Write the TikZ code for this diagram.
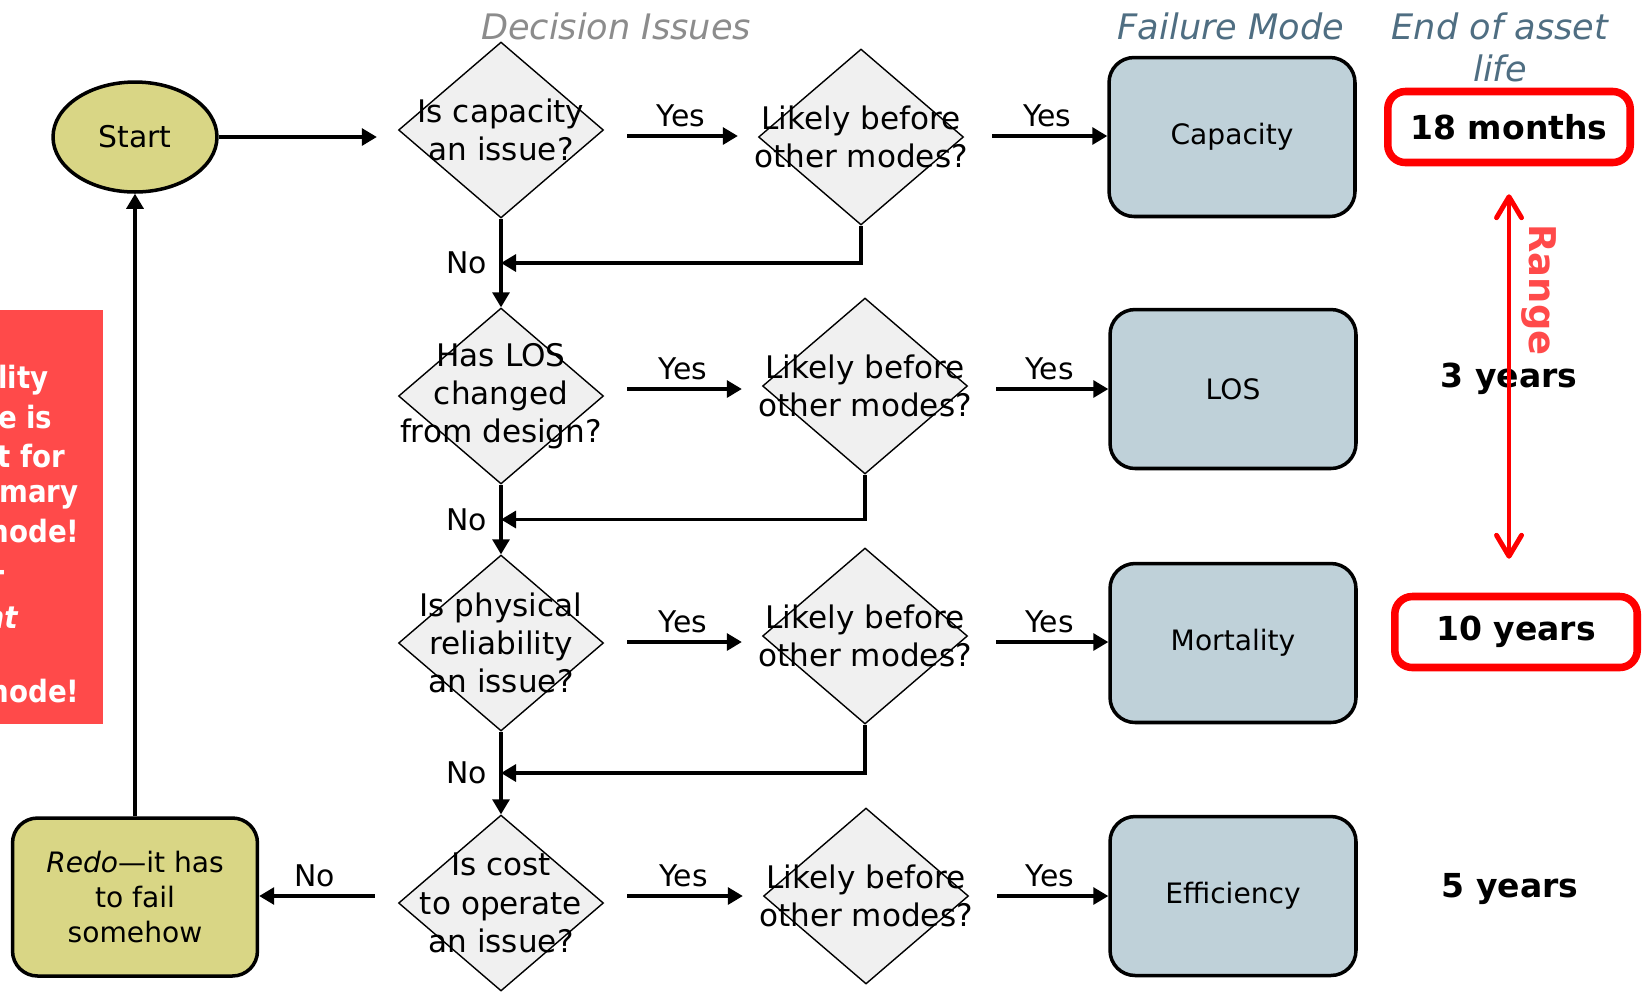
\documentclass[tikz,border=0pt]{standalone}
\usepackage{fontspec}
\setmainfont{DejaVu Sans}[ItalicFont={DejaVu Sans Oblique},BoldFont={DejaVu Sans Bold},BoldItalicFont={DejaVu Sans Bold Oblique}]
\usetikzlibrary{arrows.meta,calc,positioning,shapes.geometric}
\definecolor{khaki}{rgb}{0.85,0.84,0.52}
\definecolor{modeblue}{rgb}{0.75,0.82,0.85}
\definecolor{diagray}{rgb}{0.94,0.94,0.94}
\definecolor{red1}{rgb}{1,0.29,0.29}
\definecolor{headgray}{rgb}{0.55,0.55,0.55}
\definecolor{headblue}{rgb}{0.31,0.43,0.51}

\begin{document}
\begin{tikzpicture}[x=0.02cm,y=-0.02cm,>={Triangle[length=0.3cm,width=0.34cm]},line width=1.8pt,
  question/.style={diamond, draw, line width=0.8pt, fill=diagray, minimum width=4.1cm, minimum height=3.52cm, inner sep=0pt},
  qtext/.style={align=center, font=\fontsize{17.7}{21.8}\selectfont},
  mode/.style={rectangle, rounded corners=0.5cm, draw, line width=2pt, fill=modeblue, minimum width=4.92cm, minimum height=3.18cm, font=\fontsize{16}{19}\selectfont},
  answer/.style={font=\fontsize{17}{20}\selectfont},
  head/.style={font=\fontsize{20}{24}\selectfont\itshape},
  yearbox/.style={draw=red, line width=4.3pt, rounded corners=0.35cm, fill=white, minimum width=4.85cm, minimum height=1.42cm, font=\fontsize{18.8}{22}\selectfont\bfseries},
  yeartext/.style={font=\fontsize{18.8}{22}\selectfont\bfseries}]
  \useasboundingbox (0,0) rectangle (1642,992);

  % headings
  \node[head, headgray] (hdec) at (616,26) {Decision Issues};
  \node[head, headblue] (hmode) at (1231,26) {Failure Mode};
  \node[head, headblue, align=center] (hlife) at (1500,47) {End of asset\\life};

  % side note, cut at the left edge
  \fill[red1] (0,310) rectangle (103,724);
  \begin{scope}
    \clip (0,310) rectangle (103,724);
    \foreach \txt/\xr/\yb in {lity/50/388, e is/54/428, t for/67/467, mary/80/502, node!/81/542, -/8/581, \textit{nt}/20/628, node!/81/702}
      \node[white, anchor=base east, inner sep=0pt, font=\fontsize{17.5}{21}\selectfont\bfseries] (side\yb) at (\xr,\yb) {\scalebox{0.9}[1]{\txt}};
  \end{scope}

  % start and redo
  \node[ellipse, draw, line width=2pt, fill=khaki, minimum width=3.28cm, minimum height=2.2cm, font=\fontsize{17}{20}\selectfont] (start) at (135,137) {Start};
  \node[rectangle, rounded corners=0.5cm, draw, line width=2pt, fill=khaki, minimum width=4.9cm, minimum height=3.16cm, align=center, font=\fontsize{16}{20.2}\selectfont] (redo) at (135,897) {\textit{Redo}---it has\\to fail\\somehow};

  % rows of the arrows
  \coordinate (r1) at (0,136);
  \coordinate (r2) at (0,389);
  \coordinate (r3) at (0,642);
  \coordinate (r4) at (0,896);

  % decision rows
  \node[question] (d1) at (501,130) {};
  \node[qtext] (d1t) at (d1) {Is capacity\\an issue?};
  \node[question] (l1) at (861,137) {};
  \node[qtext] (l1t) at (l1) {Likely before\\other modes?};
  \node[mode] (capacity) at (1232,137) {Capacity};

  \node[question] (d2) at (501,396) {};
  \node[qtext] (d2t) at (d2) {Has LOS\\changed\\from design?};
  \node[question] (l2) at (865,386) {};
  \node[qtext] (l2t) at (l2) {Likely before\\other modes?};
  \node[mode] (los) at (1233,389) {LOS};

  \node[question] (d3) at (501,643) {};
  \node[qtext] (d3t) at (d3) {Is physical\\reliability\\an issue?};
  \node[question] (l3) at (865,636) {};
  \node[qtext] (l3t) at (l3) {Likely before\\other modes?};
  \node[mode] (mortality) at (1233,643) {Mortality};

  \node[question] (d4) at (501,903) {};
  \node[qtext] (d4t) at (d4) {Is cost\\to operate\\an issue?};
  \node[question] (l4) at (866,896) {};
  \node[qtext] (l4t) at (l4) {Likely before\\other modes?};
  \node[mode] (efficiency) at (1233,896) {Efficiency};

  \coordinate (j1) at ($(d1.south)!0.5!(d2.north)$);
  \coordinate (j2) at ($(d2.south)!0.5!(d3.north)$);
  \coordinate (j3) at ($(d3.south)!0.5!(d4.north)$);

  % connectors
  \draw[->, shorten >=0.42cm] (start) -- (d1.west |- start);
  \foreach \d/\l/\m/\r in {d1/l1/capacity/r1, d2/l2/los/r2, d3/l3/mortality/r3, d4/l4/efficiency/r4} {
    \draw[->, shorten <=0.46cm, shorten >=0.4cm] (\d.east |- \r) -- (\l.west |- \r) node[answer, midway, above=1pt] (yes\d) {Yes};
    \draw[->, shorten <=0.56cm] (\l.east |- \r) -- (\m.west |- \r) node[answer, pos=0.58, above=1pt] (yes\l) {Yes};
  }
  \draw[->] (d1) -- (d2);
  \draw[->] (d2) -- (d3);
  \draw[->] (d3) -- (d4);
  \draw[->] (l1.south) |- (j1);
  \draw[->] (l2.south) |- (j2);
  \draw[->] (l3.south) |- (j3);
  \node[answer, left=1.3mm of j1] (no1) {No};
  \node[answer, left=1.3mm of j2] (no2) {No};
  \node[answer, left=1.3mm of j3] (no3) {No};
  \draw[->, shorten <=0.46cm] (d4.west |- r4) -- (redo.east |- r4) node[answer, pos=0.6, above=1pt] (no4) {No};
  \draw[->] (redo) -- (start);

  % end of asset life
  \node[yearbox] (m18) at (1509,127) {18 months};
  \node[yeartext] (y3) at (1509,379) {3 years};
  \node[yearbox] (y10) at (1516,632) {10 years};
  \node[yeartext] (y5) at (1510,889) {5 years};
  \draw[{Straight Barb[length=0.42cm,width=0.5cm,round]}-{Straight Barb[length=0.42cm,width=0.5cm,round]}, red, line width=2.8pt, shorten <=0.56cm, shorten >=0.68cm] (m18.south) -- (m18.south |- y10.north);
  \node[red1, rotate=-90, font=\fontsize{21}{24}\selectfont\bfseries] (range) at (1539,290) {Range};
\end{tikzpicture}
\end{document}
